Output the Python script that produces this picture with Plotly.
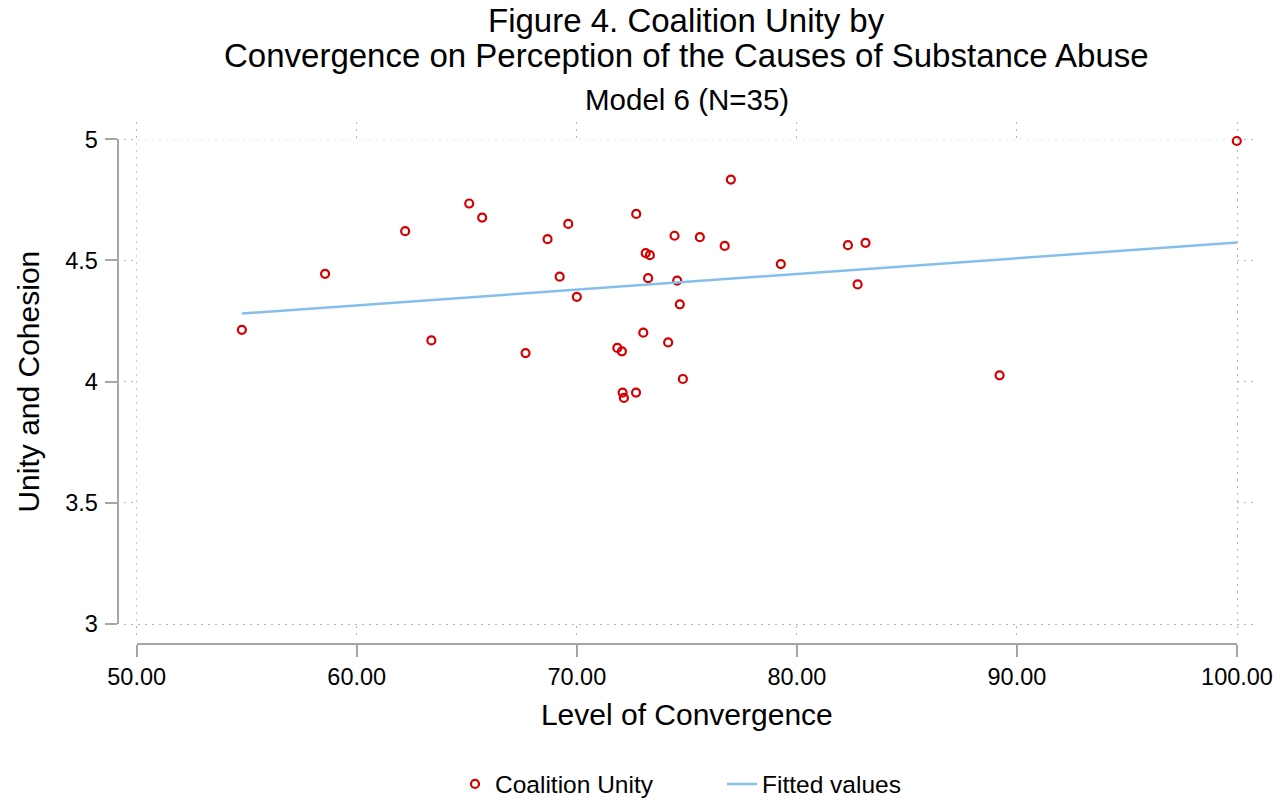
import plotly.graph_objects as go

# Coalition unity data (Level of Convergence, Unity and Cohesion)
convergence = [54.78, 58.56, 62.20, 65.11, 65.70, 63.39, 67.67, 68.67, 69.61, 69.22,
               70.00, 72.70, 77.00, 74.44, 75.59, 76.72, 73.13, 73.32, 73.24, 74.56,
               74.68, 73.02, 74.15, 71.84, 72.05, 74.82, 72.08, 72.14, 72.69, 79.27,
               82.32, 83.12, 82.76, 89.21, 99.99]
unity = [4.214, 4.445, 4.621, 4.735, 4.677, 4.170, 4.118, 4.588, 4.651, 4.433,
         4.350, 4.692, 4.834, 4.602, 4.596, 4.560, 4.530, 4.522, 4.427, 4.417,
         4.319, 4.202, 4.162, 4.139, 4.125, 4.011, 3.955, 3.933, 3.955, 4.485,
         4.563, 4.573, 4.401, 4.026, 4.993]

# Fitted values (endpoints of the fitted line)
fit_x = [54.78, 100.0]
fit_y = [4.281, 4.574]

x_ticks = [50, 60, 70, 80, 90, 100]
x_ticktext = ["50.00", "60.00", "70.00", "80.00", "90.00", "100.00"]
y_ticks = [3, 3.5, 4, 4.5, 5]
y_ticktext = ["3", "3.5", "4", "4.5", "5"]

title_lines = ["Figure 4. Coalition Unity by",
               "Convergence on Perception of the Causes of Substance Abuse"]
subtitle = "Model 6 (N=35)"

W, H = 1282, 804
OFF = 8  # page body margin
FONT = "Liberation Sans, Arial, Helvetica, sans-serif"
AXCOL = "#a6a6a6"
GRIDCOL = "#b4b4b4"


def px_x(p):
    return (p - OFF) / W


def px_y(p):
    return 1 - (p - OFF) / H


fig = go.Figure()

# invisible trace on the grid subplot so it renders
fig.add_trace(go.Scatter(x=[None], y=[None], xaxis="x", yaxis="y",
                         showlegend=False, hoverinfo="skip"))

fig.add_trace(go.Scatter(
    x=convergence, y=unity, mode="markers", name="Coalition Unity",
    xaxis="x2", yaxis="y2", cliponaxis=False,
    marker=dict(symbol="circle-open", size=8, color="#d40000",
                line=dict(width=2.2, color="#d40000")),
))
fig.add_trace(go.Scatter(
    x=fit_x, y=fit_y, mode="lines", name="Fitted values",
    xaxis="x2", yaxis="y2", cliponaxis=False,
    line=dict(color="#85c0ec", width=2.5),
))

# geometry (pixels, in the photographed page)
x50, x100 = 136.7, 1237.0
y5, y3 = 139.3, 624.0
ux = (x100 - x50) / 50.0
uy = (y3 - y5) / 2.0
gl, gr, gt, gb = 124.0, 1256.0, 122.0, 637.0
xc = (x50 + x100) / 2

annotations = [
    dict(text=title_lines[0], x=px_x(xc), y=px_y(21), xref="paper", yref="paper",
         xanchor="center", yanchor="middle", showarrow=False,
         font=dict(size=33, family=FONT, color="black")),
    dict(text=title_lines[1], x=px_x(xc), y=px_y(55), xref="paper", yref="paper",
         xanchor="center", yanchor="middle", showarrow=False,
         font=dict(size=33, family=FONT, color="black")),
    dict(text=subtitle, x=px_x(xc), y=px_y(99), xref="paper", yref="paper",
         xanchor="center", yanchor="middle", showarrow=False,
         font=dict(size=29.5, family=FONT, color="black")),
]

fig.update_layout(
    width=W, height=H,
    margin=dict(l=0, r=0, t=0, b=0, autoexpand=False),
    paper_bgcolor="white", plot_bgcolor="white",
    font=dict(family=FONT, color="black", size=23),
    annotations=annotations,
    # grid axes
    xaxis=dict(
        domain=[px_x(gl), px_x(gr)],
        range=[50 - (x50 - gl) / ux, 100 + (gr - x100) / ux],
        tickvals=x_ticks, showticklabels=False, ticks="",
        showgrid=True, gridcolor=GRIDCOL, gridwidth=1.3, griddash="2px,5px",
        showline=False, zeroline=False, anchor="y", automargin=False,
    ),
    yaxis=dict(
        domain=[px_y(gb), px_y(gt)],
        range=[3 - (gb - y3) / uy, 5 + (y5 - gt) / uy],
        tickvals=y_ticks, showticklabels=False, ticks="",
        showgrid=True, gridcolor=GRIDCOL, gridwidth=1.3, griddash="2px,5px",
        showline=False, zeroline=False, anchor="x", automargin=False,
    ),
    # data axes
    xaxis2=dict(
        domain=[px_x(x50), px_x(x100)], range=[50, 100],
        anchor="free", position=px_y(643.5),
        tickvals=x_ticks, ticktext=x_ticktext,
        ticks="outside", ticklen=12, tickwidth=2, tickcolor=AXCOL,
        ticklabelstandoff=0,
        showline=True, linecolor=AXCOL, linewidth=2,
        showgrid=False, zeroline=False, automargin=False,
        tickfont=dict(size=23.5),
        title=dict(text="Level of Convergence", font=dict(size=30), standoff=14),
    ),
    yaxis2=dict(
        domain=[px_y(y3), px_y(y5)], range=[3, 5],
        anchor="free", position=px_x(117.5),
        tickvals=y_ticks, ticktext=y_ticktext,
        ticks="outside", ticklen=12, tickwidth=2, tickcolor=AXCOL,
        ticklabelstandoff=2,
        showline=True, linecolor=AXCOL, linewidth=2,
        showgrid=False, zeroline=False, automargin=False,
        tickfont=dict(size=23.5),
        title=dict(text="Unity and Cohesion", font=dict(size=30), standoff=16),
    ),
    legend=dict(
        orientation="h", x=px_x(455), xanchor="left",
        y=px_y(784), yanchor="middle",
        font=dict(size=24.5), entrywidth=222, entrywidthmode="pixels",
    ),
    showlegend=True,
)

fig.write_html("out.html")
